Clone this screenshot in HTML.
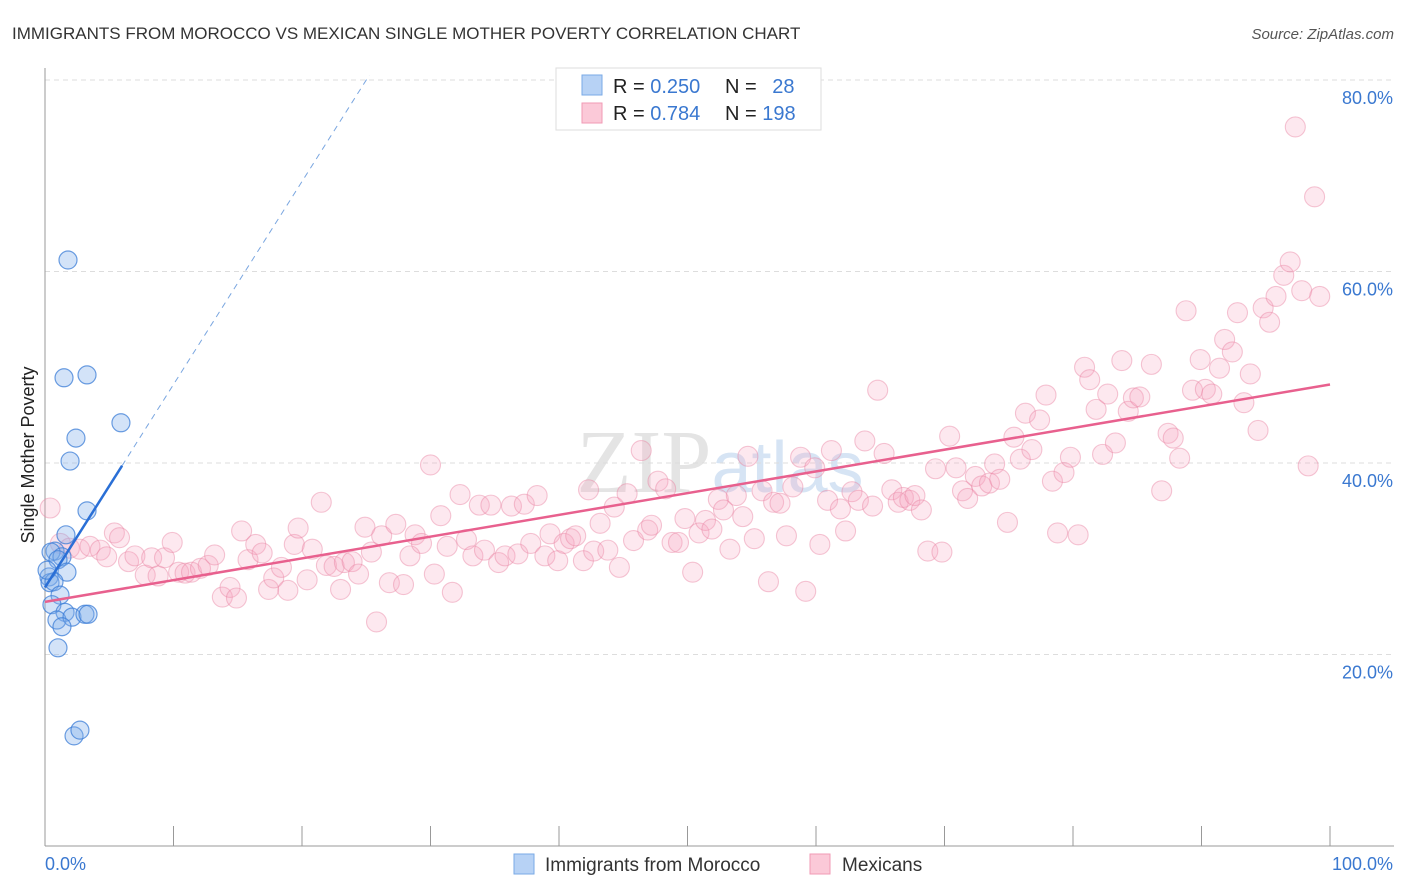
<!DOCTYPE html>
<html><head><meta charset="utf-8"><style>
body{margin:0;background:#fff;font-family:"Liberation Sans",sans-serif}
svg{display:block}
</style></head><body>
<svg id="chart" width="1406" height="892" xmlns="http://www.w3.org/2000/svg">
<text x="12" y="39" font-size="17" fill="#333">IMMIGRANTS FROM MOROCCO VS MEXICAN SINGLE MOTHER POVERTY CORRELATION CHART</text>
<text x="1394" y="39" font-size="15" fill="#555" text-anchor="end" font-style="italic">Source: ZipAtlas.com</text>
<text x="720" y="492" font-size="90" fill="#e4e4e4" text-anchor="middle" font-family="Liberation Serif">ZIP<tspan font-family="Liberation Sans" font-size="72" fill="#d6e4f4">atlas</tspan></text>
<g id="grid"></g>
<g id="axes"></g>
<g id="pink"></g>
<g id="blue"></g>
<g id="trends"></g>
<text transform="translate(34,455) rotate(-90)" font-size="18" fill="#222" text-anchor="middle">Single Mother Poverty</text>
<g>
<rect x="556" y="68" width="265" height="62" fill="#fff" stroke="#ddd"/>
<rect x="582" y="75" width="20" height="20" fill="#b7d2f5" stroke="#7aaae6"/>
<rect x="582" y="103" width="20" height="20" fill="#fbc9d8" stroke="#f09ab5"/>
<text x="613" y="93" font-size="20" fill="#222">R = <tspan fill="#3a78d0">0.250</tspan></text>
<text x="725" y="93" font-size="20" fill="#222">N = <tspan fill="#3a78d0" dx="10">28</tspan></text>
<text x="613" y="120" font-size="20" fill="#222">R = <tspan fill="#3a78d0">0.784</tspan></text>
<text x="725" y="120" font-size="20" fill="#222">N = <tspan fill="#3a78d0">198</tspan></text>
</g>
<g>
<rect x="514" y="854" width="20" height="20" fill="#b7d2f5" stroke="#7aaae6"/>
<text x="545" y="871" font-size="19" fill="#333">Immigrants from Morocco</text>
<rect x="810" y="854" width="20" height="20" fill="#fbc9d8" stroke="#f09ab5"/>
<text x="842" y="871" font-size="19" fill="#333">Mexicans</text>
</g>
</svg>
<script>
const yTicks=[20,40,60,80];
const yTickLabels=["20.0%","40.0%","60.0%","80.0%"];
const xTicks=[0,10,20,30,40,50,60,70,80,90,100];
const blueX=[1.79,1.48,3.27,2.41,1.95,5.91,3.27,1.63,0.78,0.47,1.32,1.01,1.71,0.31,0.39,0.70,1.17,0.54,1.56,0.93,2.1,1.32,3.11,3.35,1.01,2.26,2.72,0.16];
const blueY=[61.2,48.9,49.2,42.6,40.2,44.2,35.0,32.5,30.8,30.7,30.2,29.9,28.6,28.1,27.5,27.6,26.2,25.2,24.4,23.6,23.9,22.9,24.2,24.2,20.7,11.5,12.1,28.8];
const pinkX=[0.4,1.2,1.9,2.7,3.5,4.3,4.8,5.4,5.8,6.5,7.0,7.8,8.3,8.8,9.3,9.9,10.4,10.9,11.4,12.1,12.7,13.2,13.8,14.4,14.9,15.3,15.8,16.4,16.9,17.4,17.8,18.4,18.9,19.4,19.7,20.4,20.8,21.5,21.9,22.5,23.0,23.3,23.9,24.4,24.9,25.4,25.8,26.2,26.8,27.3,27.9,28.4,28.8,29.3,30.0,30.3,30.8,31.3,31.7,32.3,32.8,33.3,33.8,34.2,34.7,35.3,35.8,36.3,36.8,37.3,37.8,38.3,38.9,39.3,39.9,40.4,40.9,41.3,41.9,42.3,42.7,43.2,43.8,44.3,44.7,45.3,45.8,46.4,46.9,47.2,47.7,48.3,48.8,49.3,49.8,50.4,50.9,51.4,51.9,52.4,52.8,53.3,53.8,54.3,54.7,55.2,55.8,56.3,56.7,57.2,57.7,58.2,58.8,59.2,59.9,60.3,60.9,61.2,61.9,62.3,62.8,63.3,63.8,64.4,64.8,65.3,65.9,66.4,66.8,67.3,67.7,68.2,68.7,69.3,69.8,70.4,70.9,71.4,71.8,72.4,72.9,73.5,73.9,74.3,74.9,75.4,75.9,76.3,76.8,77.4,77.9,78.4,78.8,79.3,79.8,80.4,80.9,81.3,81.8,82.3,82.7,83.3,83.8,84.3,84.7,85.2,86.1,86.9,87.4,87.8,88.3,88.8,89.3,89.9,90.3,90.8,91.4,91.8,92.4,92.8,93.3,93.8,94.4,94.8,95.3,95.8,96.4,96.9,97.3,97.8,98.3,98.8,99.2];
const pinkY=[35.3,31.6,31.1,31.0,31.3,30.9,30.2,32.7,32.2,29.7,30.3,28.3,30.1,28.2,30.1,31.7,28.6,28.5,28.6,29.0,29.3,30.4,26.0,27.0,25.9,32.9,29.9,31.5,30.6,26.8,28.0,29.1,26.7,31.5,33.2,27.8,31.0,35.9,29.3,29.2,26.8,29.6,29.7,28.4,33.3,30.7,23.4,32.4,27.5,33.6,27.3,30.3,32.5,31.6,39.8,28.4,34.5,31.3,26.5,36.7,32.0,30.3,35.6,30.9,35.6,29.6,30.3,35.5,30.5,35.7,31.6,36.6,30.3,32.6,29.8,31.6,32.1,32.4,29.8,37.2,30.8,33.7,30.9,35.4,29.1,36.8,31.9,41.3,33.0,33.5,38.1,37.3,31.7,31.7,34.2,28.6,32.7,34.0,33.1,36.2,35.1,31.0,36.6,34.4,40.7,32.1,37.1,27.6,35.9,35.8,32.4,37.5,40.6,26.6,39.5,31.5,36.1,41.3,35.2,32.9,37.0,36.1,42.3,35.5,47.6,41.0,37.2,35.9,36.4,36.1,36.6,35.1,30.8,39.4,30.7,42.8,39.5,37.1,36.3,38.6,37.6,37.9,39.9,38.3,33.8,42.7,40.4,45.2,41.4,44.5,47.1,38.1,32.7,39.0,40.6,32.5,50.0,48.7,45.6,40.9,47.2,42.1,50.7,45.4,46.8,46.9,50.3,37.1,43.1,42.6,40.5,55.9,47.6,50.8,47.7,47.2,49.9,52.9,51.6,55.7,46.3,49.3,43.4,56.2,54.7,57.4,59.6,61.0,75.1,58.0,39.7,67.8,57.4];
const blueTrend=[27.0,2.12];
const pinkTrend=[25.5,48.2];
const NS='http://www.w3.org/2000/svg';
const X0=45,X1=1330,Y0=846,PXPER=9.575;
function sx(v){return X0+(X1-X0)*v/100;}
function sy(v){return Y0-v*PXPER;}
function mk(tag,attrs,parent){const e=document.createElementNS(NS,tag);for(const k in attrs)e.setAttribute(k,attrs[k]);parent.appendChild(e);return e;}
const grid=document.getElementById('grid'),axes=document.getElementById('axes');
yTicks.forEach((t,i)=>{
 const l=mk('line',{x1:X0,x2:1394,y1:sy(t),y2:sy(t),stroke:'#ddd','stroke-dasharray':'5,4'},grid);
 
 
 const tx=mk('text',{x:1393,y:sy(t)+24,'font-size':18,fill:'#3a78d0','text-anchor':'end'},axes);
 tx.textContent=yTickLabels[i];
 
 
});
const ax=mk('line',{x1:X0,x2:X0,y1:68,y2:Y0,stroke:'#999'},axes);


const bx=mk('line',{x1:X0,x2:1394,y1:Y0,y2:Y0,stroke:'#999'},axes);


xTicks.forEach(t=>{
 const l=mk('line',{x1:sx(t),x2:sx(t),y1:826,y2:Y0,stroke:'#999'},axes);
 
 
});
const xl0=mk('text',{x:45,y:870,'font-size':18,fill:'#3a78d0'},axes);xl0.textContent='0.0%';


const xl1=mk('text',{x:1393,y:870,'font-size':18,fill:'#3a78d0','text-anchor':'end'},axes);xl1.textContent='100.0%';


const pg=document.getElementById('pink');
pinkX.forEach((x,i)=>{
 const c=mk('circle',{cx:sx(x),cy:sy(pinkY[i]),r:10,fill:'rgba(246,165,192,0.25)',stroke:'rgba(232,130,162,0.45)','stroke-width':1.1},pg);
 
 
});
const bg=document.getElementById('blue');
blueX.forEach((x,i)=>{
 const c=mk('circle',{cx:sx(x),cy:sy(blueY[i]),r:9,fill:'rgba(130,175,235,0.35)',stroke:'rgba(60,125,215,0.75)','stroke-width':1.2},bg);
 
 
});
const tg=document.getElementById('trends');
const pl=mk('line',{x1:sx(0),y1:sy(pinkTrend[0]),x2:sx(100),y2:sy(pinkTrend[1]),stroke:'#e8608e','stroke-width':2.5},tg);


const bf=x=>blueTrend[0]+blueTrend[1]*x;
const bl=mk('line',{x1:sx(0),y1:sy(bf(0)),x2:sx(6),y2:sy(bf(6)),stroke:'#2a6fd6','stroke-width':2.5},tg);


const xe=(80.5-blueTrend[0])/blueTrend[1];
const bd=mk('line',{x1:sx(6),y1:sy(bf(6)),x2:sx(xe),y2:sy(bf(xe)),stroke:'#7aa6e0','stroke-width':1,'stroke-dasharray':'6,5'},tg);


</script>
</body></html>
